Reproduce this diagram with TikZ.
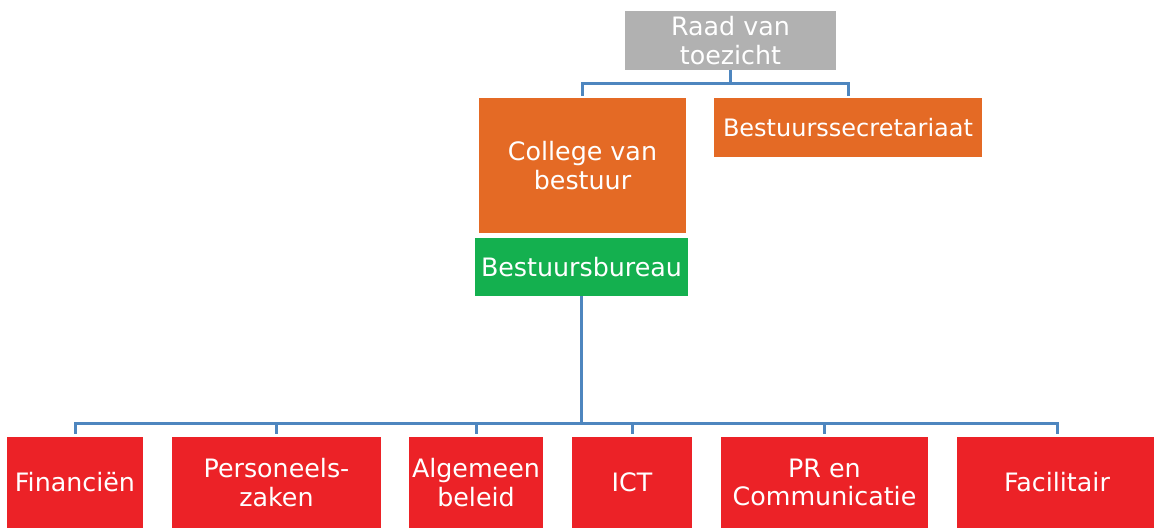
\documentclass[tikz,border=0pt]{standalone}
\usepackage{fontspec}
\setmainfont{DejaVu Sans}
\usetikzlibrary{positioning}
\definecolor{raadgrey}{HTML}{B1B1B1}
\definecolor{cvborange}{HTML}{E46A25}
\definecolor{bureaugreen}{HTML}{14B04F}
\definecolor{afdred}{HTML}{EC2227}
\definecolor{linkblue}{HTML}{4E86BF}

\begin{document}
\begin{tikzpicture}[x=0.75pt,y=-0.75pt,
  box/.style={rectangle,inner sep=0pt,text=white,align=center,
    font=\fontsize{19}{21.5}\selectfont},
  afd/.style={box,fill=afdred,minimum height=68.25pt},
  link/.style={draw=linkblue,line width=2.25pt}]
\useasboundingbox (0,0) rectangle (1154,530);
% top
\node[box,fill=raadgrey,minimum width=158.25pt,minimum height=44.25pt] (raad) at (730.5,40.5) {Raad van\\toezicht};
\node[box,fill=cvborange,minimum width=155.25pt,minimum height=101.25pt] (cvb) at (582.5,165.5) {College van\\bestuur};
\node[box,fill=cvborange,minimum width=201pt,minimum height=44.25pt,
  font=\fontsize{18}{21.5}\selectfont] (secr) at (848,127.5) {Bestuurssecretariaat};
\node[box,fill=bureaugreen,minimum width=159.75pt,minimum height=43.5pt] (bureau) at (581.5,267) {Bestuursbureau};
% afdelingen
\node[afd,minimum width=102pt] (fin) at (75,482.5) {Financiën};
\node[afd,minimum width=156.75pt] (pers) at (276.5,482.5) {Personeels-\\zaken};
\node[afd,minimum width=100.5pt] (alg) at (476,482.5) {Algemeen\\beleid};
\node[afd,minimum width=90pt] (ict) at (632,482.5) {ICT};
\node[afd,minimum width=155.25pt] (pr) at (824.5,482.5) {PR en\\Communicatie};
\node[afd,minimum width=150pt] (fac) at (1057,482.5) {Facilitair};
% lijnen
\draw[link] (raad.south) -- ++(0,13) coordinate (topbus);
\draw[link,shorten >=1.5pt] (topbus) -| (cvb.north);
\draw[link,shorten >=1.5pt] (topbus) -| (secr.north);
\draw[link] (bureau.south) -- ++(0,127) coordinate (bus);
\foreach \n in {fin,pers,alg,ict,pr,fac}
  \draw[link,shorten >=2.25pt] (bus) -| (\n.north);
\end{tikzpicture}
\end{document}
